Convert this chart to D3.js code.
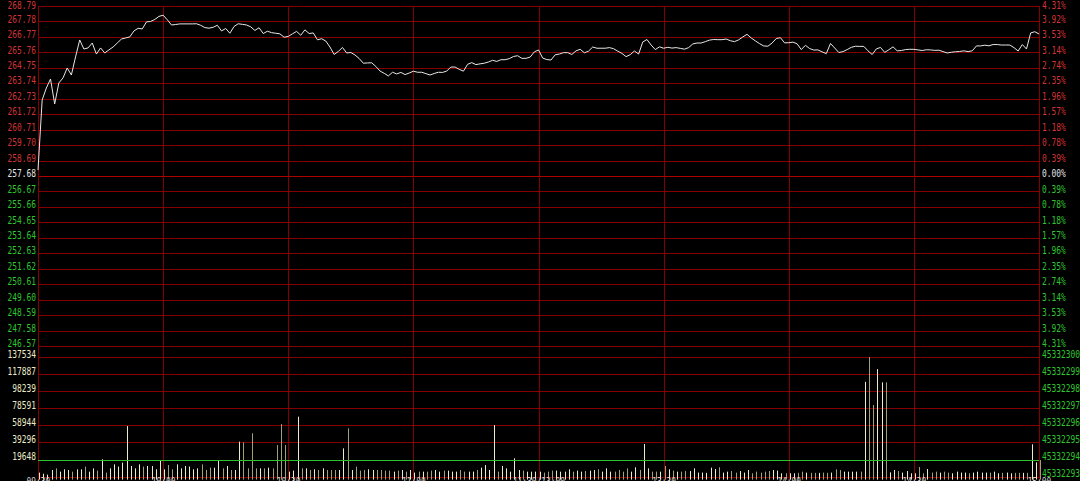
<!DOCTYPE html>
<html><head><meta charset="utf-8">
<script src="https://cdn.jsdelivr.net/npm/d3@7/dist/d3.min.js"></script>
<style>html,body{margin:0;padding:0;background:#000;overflow:hidden}</style>
</head><body><svg id="c" width="1080" height="481"></svg>
<script>
const basePrice = 257.68;
const priceTicks = [268.79,267.78,266.77,265.76,264.75,263.74,262.73,261.72,260.71,259.70,258.69,257.68,
  256.67,255.66,254.65,253.64,252.63,251.62,250.61,249.60,248.59,247.58,246.57];
const pctLabels = ["4.31%","3.92%","3.53%","3.14%","2.74%","2.35%","1.96%","1.57%","1.18%","0.78%","0.39%","0.00%",
  "0.39%","0.78%","1.18%","1.57%","1.96%","2.35%","2.74%","3.14%","3.53%","3.92%","4.31%"];
const timeMinutes = [0,30,60,90,120,150,180,210,240];
const timeLabels = ["09:30","10:00","10:30","11:00","11:30/13:00","13:30","14:00","14:30","15:00"];
const volTicks = [137534,117887,98239,78591,58944,39296,19648,0];
const volLeftLabels = ["137534","117887","98239","78591","58944","39296","19648",""];
const volRightLabels = ["45332300","45332299","45332298","45332297","45332296","45332295","45332294","45332293"];
const volAvg = 19648;

const prices = [
258.07,262.65,263.43,264.02,262.39,263.76,264.09,264.74,264.28,265.46,
266.57,265.98,266.05,266.37,265.65,266.05,265.72,265.92,266.11,266.37,
266.63,266.70,266.77,267.16,267.33,267.29,267.75,267.78,267.91,268.11,
268.19,267.89,267.55,267.58,267.62,267.62,267.62,267.62,267.63,267.53,
267.38,267.34,267.40,267.53,267.16,267.32,267.01,267.45,267.63,267.59,
267.55,267.43,267.19,267.37,266.99,267.14,267.05,267.01,266.97,266.75,
266.80,266.97,267.13,266.88,267.23,266.99,267.03,266.58,266.65,266.50,
266.11,265.62,265.82,266.08,265.72,265.75,265.59,265.36,265.05,265.07,
265.08,264.84,264.54,264.39,264.22,264.46,264.35,264.45,264.31,264.41,
264.53,264.46,264.46,264.37,264.28,264.38,264.46,264.45,264.54,264.80,
264.80,264.65,264.53,264.98,265.09,264.96,265.01,265.05,265.13,265.24,
265.17,265.28,265.28,265.35,265.49,265.54,265.37,265.37,265.45,265.79,
265.92,265.39,265.29,265.26,265.60,265.65,265.74,265.74,265.62,265.86,
265.96,265.73,265.84,266.11,266.03,266.03,266.03,266.07,266.00,265.84,
265.69,265.48,265.61,265.85,265.65,266.44,266.60,266.24,265.94,266.12,
266.03,266.09,266.04,266.07,266.02,265.97,266.07,266.31,266.37,266.37,
266.46,266.56,266.60,266.59,266.59,266.63,266.52,266.46,266.58,266.77,
266.94,266.70,266.51,266.33,266.18,266.16,266.37,266.66,266.72,266.38,
266.39,266.43,266.32,265.94,266.22,266.01,265.91,265.92,265.79,265.68,
266.34,266.05,265.75,265.81,265.94,266.09,266.16,266.15,266.15,265.86,
265.62,265.99,266.08,265.76,265.93,266.12,265.86,265.88,265.94,265.96,
265.96,265.92,265.88,265.93,265.92,265.89,265.90,265.81,265.72,265.77,
265.80,265.82,265.86,265.81,265.86,266.18,266.18,266.23,266.19,266.27,
266.27,266.24,266.24,266.24,266.07,265.85,266.27,265.98,267.03,267.11,
266.96];

const volumes = [
4600,3400,2300,7600,9500,5700,8400,7600,5700,8400,
8400,11500,5700,9500,6900,19900,4600,9500,14100,11500,
16100,58100,12200,9500,14100,11500,12200,12200,8400,19100,
8400,13300,8400,14100,9500,12200,11500,8400,9500,14100,
7600,10300,10300,17900,9500,12200,7600,7600,40200,39400,
9500,49800,9500,9500,9500,10300,9500,36300,60400,36300,
5700,6900,68900,9500,9500,7600,8400,7600,9500,7600,
7600,7600,7600,32500,55500,7600,11500,6900,7600,8400,
7600,7600,7600,6900,6900,5700,6900,7600,5700,7600,
4600,5700,5700,5700,6900,7600,5700,6900,6900,5700,
5700,7600,5700,5700,5700,7600,10300,13300,7600,59300,
5700,12200,9500,5700,21000,7600,6900,5700,5700,5700,
5700,4600,5700,6900,6900,5700,5700,8400,5700,6900,
5700,6400,6900,7600,8400,5700,9500,5700,5700,7600,
5700,9500,5700,10700,7600,37500,9500,5700,5700,5700,
12200,8400,6900,5700,5700,6400,6400,9500,4600,4600,
4300,10300,8700,10700,4600,5700,6400,4600,6400,4600,
7600,3800,5700,4600,5700,6400,7600,6900,3800,3800,
3800,3800,4300,5700,4600,4300,4300,4300,4600,4300,
4600,8400,7600,5700,5700,5700,5700,5700,109000,137534,
82300,123600,108400,108400,4900,7600,6400,4600,6400,3800,
3800,11000,3800,8700,4600,5700,4600,5700,4600,3800,
5700,4600,4600,3800,4600,5700,4600,4600,4600,5700,
3800,4300,4600,3800,4300,4300,4300,4300,37100,16400,
19100];

const W = 1080, H = 481;
const left = 38, right = 1039;
const svg = d3.select("#c");
svg.append("rect").attr("width", W).attr("height", H).attr("fill", "#000");

const x = d3.scaleLinear().domain([0, 240]).range([left, right]);
const yP = d3.scaleLinear().domain([246.57, 268.79]).range([346, 6]);
const yV = d3.scaleLinear().domain([0, 137534]).range([476.6, 357]);

const GRID = "#850000";
const RED = "#d23434", GREEN = "#2fc62f", WHITE = "#e4e4e4", CREAM = "#ecebc8";
const FONT = "DejaVu Sans Mono";
const CW = 4.75;

function styleText(sel) {
  sel.attr("font-family", FONT).attr("font-size", "10px")
     .attr("lengthAdjust", "spacingAndGlyphs")
     .attr("textLength", function(){ return this.textContent.length * CW; });
}
// keep labels of the top line inside the picture
function clampTop(sel) {
  sel.attr("dy", "0.32em")
     .attr("y", function(d) { return yP(d) < 10 ? 1.5 : 0; });
}

// horizontal grid (price)
const gGrid = svg.append("g");
gGrid.selectAll("line.hp").data(priceTicks).join("line")
  .attr("x1", left).attr("x2", right)
  .attr("y1", d => Math.round(yP(d)) + 0.5).attr("y2", d => Math.round(yP(d)) + 0.5)
  .attr("stroke", d => d === basePrice ? "#b00000" : GRID).attr("stroke-width", 1);
// horizontal grid (volume)
gGrid.selectAll("line.hv").data(volTicks).join("line")
  .attr("x1", left).attr("x2", right)
  .attr("y1", d => Math.round(yV(d)) + 0.5).attr("y2", d => Math.round(yV(d)) + 0.5)
  .attr("stroke", GRID).attr("stroke-width", 1);
// vertical grid
gGrid.selectAll("line.v").data(timeMinutes).join("line")
  .attr("x1", d => Math.round(x(d)) + 0.5).attr("x2", d => Math.round(x(d)) + 0.5)
  .attr("y1", 6).attr("y2", H)
  .attr("stroke", GRID).attr("stroke-width", 1);

// left price axis
const axL = svg.append("g").attr("transform", `translate(${left - 2},-2.5)`)
  .call(d3.axisLeft(yP).tickValues(priceTicks).tickSize(0).tickPadding(0).tickFormat(d3.format(".2f")));
axL.select(".domain").remove();
axL.selectAll("text").attr("fill", d => d > basePrice ? RED : (d < basePrice ? GREEN : WHITE)).call(styleText).call(clampTop);

// right percent axis
const axR = svg.append("g").attr("transform", `translate(${right + 3},-2.5)`)
  .call(d3.axisRight(yP).tickValues(priceTicks).tickSize(0).tickPadding(0).tickFormat((d, i) => pctLabels[i]));
axR.select(".domain").remove();
axR.selectAll("text").attr("fill", d => d > basePrice ? RED : (d < basePrice ? GREEN : WHITE)).call(styleText).call(clampTop);

// left volume axis
const axVL = svg.append("g").attr("transform", `translate(${left - 2},-3)`)
  .call(d3.axisLeft(yV).tickValues(volTicks).tickSize(0).tickPadding(0).tickFormat((d, i) => volLeftLabels[i]));
axVL.select(".domain").remove();
axVL.selectAll("text").attr("fill", CREAM).call(styleText);

// right volume axis
const axVR = svg.append("g").attr("transform", `translate(${right + 3},-3)`)
  .call(d3.axisRight(yV).tickValues(volTicks).tickSize(0).tickPadding(0).tickFormat((d, i) => volRightLabels[i]));
axVR.select(".domain").remove();
axVR.selectAll("text").attr("fill", GREEN).call(styleText);

// volume bars
svg.append("g").selectAll("rect").data(volumes).join("rect")
  .attr("x", (d, i) => Math.round(x(i)) + 1)
  .attr("width", 1)
  .attr("y", d => yV(d))
  .attr("height", d => yV(0) - yV(d) + 3)
  .attr("fill", (d, i) => (i === 0 || prices[i] >= prices[i - 1]) ? "#ecebcd" : "#a39f78");

// average volume line
svg.append("line").attr("x1", left).attr("x2", right)
  .attr("y1", Math.round(yV(volAvg)) + 0.5).attr("y2", Math.round(yV(volAvg)) + 0.5)
  .attr("stroke", "#2cc22c").attr("stroke-width", 1);

// price line
svg.append("path").datum(prices)
  .attr("fill", "none").attr("stroke", "#e8e8e8").attr("stroke-width", 1)
  .attr("d", d3.line().x((d, i) => x(i)).y(d => yP(d)));

// time axis labels (partly below the bottom edge, as in the original)
const axT = svg.append("g").attr("transform", `translate(0,477.5)`)
  .call(d3.axisBottom(x).tickValues(timeMinutes).tickSize(0).tickPadding(0).tickFormat((d, i) => timeLabels[i]));
axT.select(".domain").remove();
axT.selectAll("text").attr("fill", "#cfcfcf").call(styleText);
</script>
</body></html>
